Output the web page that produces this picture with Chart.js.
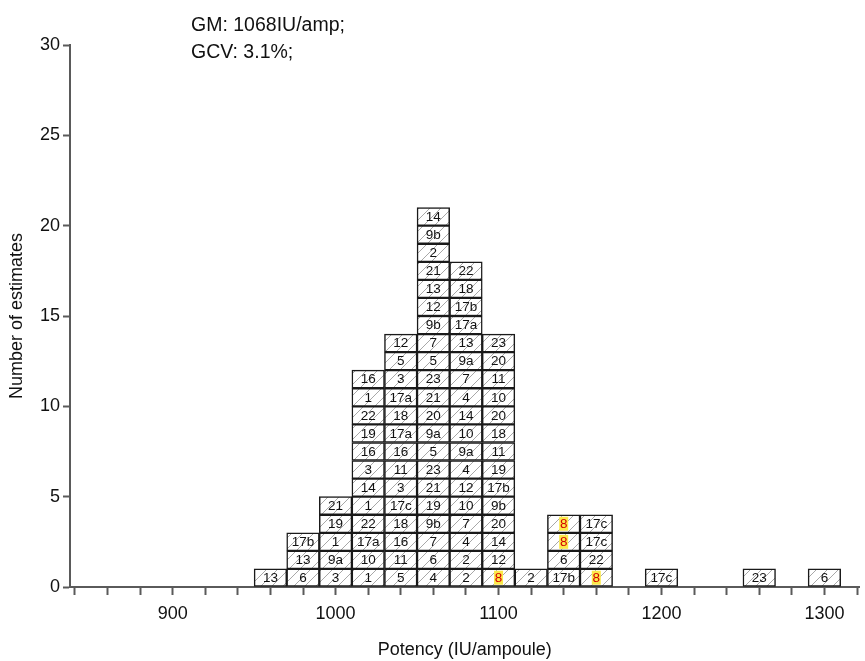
<!DOCTYPE html>
<html>
<head>
<meta charset="utf-8">
<script src="https://cdn.jsdelivr.net/npm/chart.js@4.4.1/dist/chart.umd.min.js"></script>
<style>
  body { margin: 0; background: #fff; }
</style>
</head>
<body>
<canvas id="histo" width="865" height="661"></canvas>
<script>
// bin centres (IU/ampoule) and the lab codes stacked in each bin, bottom to top
const binCentres = [960, 980, 1000, 1020, 1040, 1060, 1080, 1100, 1120, 1140, 1160, 1200, 1260, 1300];
const binLabs = [
    ['13'],
    ['6', '13', '17b'],
    ['3', '9a', '1', '19', '21'],
    ['1', '10', '17a', '22', '1', '14', '3', '16', '19', '22', '1', '16'],
    ['5', '11', '16', '18', '17c', '3', '11', '16', '17a', '18', '17a', '3', '5', '12'],
    ['4', '6', '7', '9b', '19', '21', '23', '5', '9a', '20', '21', '23', '5', '7', '9b', '12', '13', '21', '2', '9b', '14'],
    ['2', '2', '4', '7', '10', '12', '4', '9a', '10', '14', '4', '7', '9a', '13', '17a', '17b', '18', '22'],
    ['8', '12', '14', '20', '9b', '17b', '19', '11', '18', '20', '10', '11', '20', '23'],
    ['2'],
    ['17b', '6', '8', '8'],
    ['8', '22', '17c', '17c'],
    ['17c'],
    ['23'],
    ['6']
];
const highlightedLabs = ['8'];

const xTickValues = [840, 860, 880, 900, 920, 940, 960, 980, 1000, 1020, 1040, 1060, 1080,
    1100, 1120, 1140, 1160, 1180, 1200, 1220, 1240, 1260, 1280, 1300, 1320];
const xTickLabels = [900, 1000, 1100, 1200, 1300];
const yTickValues = [0, 5, 10, 15, 20, 25, 30];

const summaryLines = ['GM: 1068IU/amp;', 'GCV: 3.1%;'];

const FONT = "'Liberation Sans', Arial, sans-serif";
const AXIS_GREY = '#5a5a5a';

// one floating bar per estimate
const cells = [];
binCentres.forEach((centre, i) => {
    binLabs[i].forEach((lab, k) => {
        cells.push({ x: centre, y: [k, k + 1], lab: lab });
    });
});

// diagonal hatch fill
const makeHatch = () => {
    const s = 11;
    const c = document.createElement('canvas');
    c.width = s;
    c.height = s;
    const g = c.getContext('2d');
    g.fillStyle = '#ffffff';
    g.fillRect(0, 0, s, s);
    g.strokeStyle = '#a8a8a8';
    g.lineWidth = 1;
    g.beginPath();
    g.moveTo(-1, s + 1); g.lineTo(s + 1, -1);
    g.moveTo(-1, 1); g.lineTo(1, -1);
    g.moveTo(s - 1, s + 1); g.lineTo(s + 1, s - 1);
    g.stroke();
    return g.createPattern(c, 'repeat');
};

// lab code in the middle of each cell
const cellLabelPlugin = {
    id: 'cellLabels',
    afterDatasetsDraw(chart) {
        const ctx = chart.ctx;
        const meta = chart.getDatasetMeta(0);
        const data = chart.data.datasets[0].data;
        ctx.save();
        ctx.font = '13.5px ' + FONT;
        ctx.textAlign = 'center';
        ctx.textBaseline = 'middle';
        meta.data.forEach((el, i) => {
            const lab = data[i].lab;
            const cx = el.x;
            const cy = (el.y + el.base) / 2;
            if (highlightedLabs.includes(lab)) {
                ctx.fillStyle = '#fbe94a';
                ctx.fillRect(cx - 4.5, cy - 7, 9, 14);
                ctx.fillStyle = '#d40000';
            } else {
                ctx.fillStyle = '#111';
            }
            ctx.fillText(lab, cx, cy + 0.5);
        });
        ctx.restore();
    }
};

// GM / GCV note at the top
const summaryPlugin = {
    id: 'summary',
    afterDraw(chart) {
        const ctx = chart.ctx;
        ctx.save();
        ctx.font = '19.5px ' + FONT;
        ctx.fillStyle = '#111';
        ctx.textAlign = 'left';
        ctx.textBaseline = 'alphabetic';
        summaryLines.forEach((line, i) => {
            ctx.fillText(line, 191, 31 + i * 26.5);
        });
        ctx.restore();
    }
};

new Chart(document.getElementById('histo'), {
    type: 'bar',
    data: {
        datasets: [{
            data: cells,
            backgroundColor: makeHatch(),
            borderColor: '#1a1a1a',
            borderWidth: 1.5,
            borderSkipped: false,
            barPercentage: 1,
            categoryPercentage: 1
        }]
    },
    options: {
        responsive: false,
        animation: false,
        layout: { padding: { top: 45, right: 0, bottom: 0, left: 0 } },
        plugins: {
            legend: { display: false },
            tooltip: { enabled: false }
        },
        scales: {
            x: {
                type: 'linear',
                offset: false,
                min: 837,
                max: 1321.5,
                afterBuildTicks: (scale) => {
                    scale.ticks = xTickValues.map(v => ({ value: v }));
                },
                afterFit: (scale) => { scale.height = 74; },
                ticks: {
                    autoSkip: false,
                    maxRotation: 0,
                    padding: 8,
                    color: '#111',
                    font: { family: FONT, size: 18 },
                    callback: (v) => xTickLabels.includes(v) ? String(v) : ''
                },
                grid: {
                    offset: false,
                    drawOnChartArea: false,
                    tickLength: 8,
                    tickWidth: 2,
                    tickColor: AXIS_GREY
                },
                border: { display: true, color: AXIS_GREY, width: 2 },
                title: {
                    display: true,
                    text: 'Potency (IU/ampoule)',
                    color: '#111',
                    font: { family: FONT, size: 18 },
                    padding: { top: 0, bottom: 0 }
                }
            },
            y: {
                min: 0,
                max: 30,
                afterBuildTicks: (scale) => {
                    scale.ticks = yTickValues.map(v => ({ value: v }));
                },
                afterFit: (scale) => { scale.width = 70; },
                ticks: {
                    padding: 3,
                    color: '#111',
                    font: { family: FONT, size: 18 }
                },
                grid: {
                    drawOnChartArea: false,
                    tickLength: 7,
                    tickWidth: 2,
                    tickColor: AXIS_GREY
                },
                border: { display: true, color: AXIS_GREY, width: 2 },
                title: {
                    display: true,
                    text: 'Number of estimates',
                    color: '#111',
                    font: { family: FONT, size: 18 },
                    padding: { top: 6, bottom: 0 }
                }
            }
        }
    },
    plugins: [cellLabelPlugin, summaryPlugin]
});
</script>
</body>
</html>
